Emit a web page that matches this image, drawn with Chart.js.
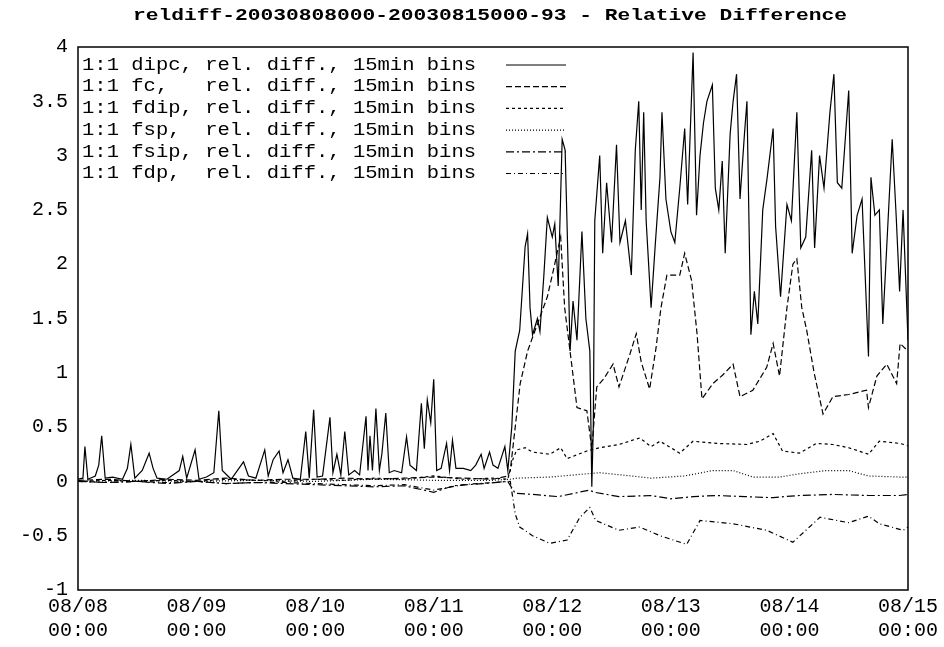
<!DOCTYPE html>
<html lang="en">
<head>
<meta charset="UTF-8">
<title>Relative Difference</title>
<script src="https://cdn.jsdelivr.net/npm/chart.js"></script>
<style>
  body { margin: 0; background: #fff; }
  #wrap { width: 944px; height: 647px; }
</style>
</head>
<body>
<div id="wrap"><canvas id="chart"></canvas></div>
<script>
// x values are hours since 08/08 00:00
const dayTicks = [0, 24, 48, 72, 96, 120, 144, 168];
const dayLabels = ['08/08', '08/09', '08/10', '08/11', '08/12', '08/13', '08/14', '08/15'];
const seriesNames = [
  '1:1 dipc, rel. diff., 15min bins',
  '1:1 fc,   rel. diff., 15min bins',
  '1:1 fdip, rel. diff., 15min bins',
  '1:1 fsp,  rel. diff., 15min bins',
  '1:1 fsip, rel. diff., 15min bins',
  '1:1 fdp,  rel. diff., 15min bins'
];

const dipc = [[0,0.02],[1,0.03],[1.4,0.32],[2,0.02],[3.5,0.05],[4.2,0.15],[4.8,0.42],[5.5,0.03],[7,0.04],[9,0.02],[10,0.12],[10.7,0.34],[11.5,0.03],[13,0.1],[14.4,0.26],[15.2,0.12],[16,0.03],[18,0.02],[20.5,0.1],[21.2,0.23],[22,0.03],[23.7,0.29],[24.5,0.02],[26,0.04],[27.5,0.08],[28.5,0.65],[29.2,0.1],[31,0.02],[33.5,0.18],[34.5,0.05],[36,0.03],[37.8,0.29],[38.5,0.05],[39.5,0.2],[40.7,0.28],[41.5,0.08],[42.5,0.2],[43.5,0.03],[45,0.02],[46.1,0.46],[46.8,0.03],[47.7,0.66],[48.4,0.04],[49.5,0.05],[51,0.59],[51.6,0.08],[52.4,0.25],[53.2,0.06],[54,0.46],[54.8,0.06],[56,0.1],[57,0.06],[58.3,0.6],[58.7,0.1],[59.1,0.42],[59.6,0.1],[60.3,0.67],[61,0.1],[61.5,0.25],[62.3,0.63],[63,0.08],[64,0.1],[65.5,0.08],[66.5,0.41],[67.2,0.15],[68.5,0.1],[69.5,0.72],[70.1,0.3],[70.7,0.75],[71.4,0.54],[72,0.94],[72.6,0.1],[73.5,0.12],[74.6,0.35],[75.2,0.1],[75.8,0.38],[76.5,0.12],[78,0.12],[79.5,0.1],[80.5,0.15],[81.6,0.25],[82.2,0.12],[83.3,0.27],[84,0.15],[85,0.12],[86.4,0.32],[87,0.1],[87.8,0.5],[88.5,1.2],[89.4,1.39],[90.5,2.16],[91,2.28],[91.5,1.6],[92,1.35],[93,1.5],[93.5,1.38],[94.3,1.9],[95,2.43],[96,2.25],[96.5,2.37],[97.2,1.8],[98,3.15],[98.6,3.05],[99.2,2.0],[99.6,1.2],[100.2,1.66],[101,1.3],[102,2.3],[102.8,1.5],[103.6,1.2],[104,-0.05],[104.3,0.5],[104.6,2.4],[105.6,3.0],[106.2,2.1],[107,2.75],[108,2.2],[109,3.1],[109.7,2.2],[110.8,2.4],[112,1.9],[112.8,3.05],[113.5,3.5],[114,2.5],[114.5,3.4],[115,2.4],[116,1.6],[116.8,2.15],[117.8,2.8],[118.2,3.4],[119,2.6],[120,2.3],[120.8,2.2],[121.8,2.7],[122.8,3.25],[123.4,2.55],[124.5,3.95],[125.2,2.45],[125.9,3.0],[126.6,3.3],[127.3,3.5],[128.4,3.65],[129,2.7],[129.7,2.5],[130.4,2.95],[131,2.1],[132,3.2],[132.6,3.5],[133.3,3.75],[134,2.6],[134.9,3.2],[135.4,3.5],[136.2,1.35],[136.9,1.75],[137.6,1.45],[138.6,2.5],[139.5,2.8],[140.7,3.25],[141.2,2.35],[142.2,1.7],[143.5,2.55],[144.4,2.4],[145.5,3.4],[146.3,2.15],[147.3,2.25],[148.5,3.05],[149.1,2.15],[150.1,3.0],[151,2.7],[152.2,3.4],[153,3.75],[153.7,2.75],[154.6,2.7],[156,3.6],[156.7,2.1],[157.7,2.45],[158.7,2.6],[160,1.15],[160.5,2.8],[161.3,2.45],[162.2,2.5],[162.9,1.45],[164.8,3.15],[165.6,2.45],[166.3,1.75],[167,2.5],[168,1.3]];

const fc = [[0,0.01],[6,0.02],[12,0.0],[18,0.02],[24,0.01],[30,0.03],[36,0.01],[42,0.02],[48,0.02],[54,0.03],[60,0.02],[66,0.03],[72,0.04],[78,0.03],[84,0.02],[87,0.05],[87.5,0.1],[88.5,0.5],[89.5,0.9],[90.5,1.1],[91,1.2],[93,1.45],[95,1.7],[96,1.9],[97.7,2.25],[98.5,1.6],[100,1.05],[101,0.68],[103,0.65],[104,0.3],[105,0.87],[106.5,0.95],[108.3,1.08],[109.5,0.87],[111.7,1.17],[113,1.36],[114,1.1],[115.7,0.85],[117,1.23],[118,1.6],[119.2,1.9],[121.8,1.9],[122.8,2.1],[124.2,1.85],[125.3,1.36],[126.3,0.76],[128.5,0.9],[130.5,0.98],[132.6,1.08],[134,0.78],[136.6,0.84],[139.4,1.05],[140.7,1.27],[142,0.97],[143.5,1.6],[144.7,2.0],[145.5,2.05],[146.5,1.6],[147.5,1.39],[149,1.0],[150.8,0.62],[152.8,0.78],[156,0.8],[159.6,0.84],[160,0.68],[161.7,0.97],[163.7,1.08],[165.7,0.9],[166.4,1.27],[168,1.2]];

const fdip = [[0,0.0],[6,0.01],[12,0.0],[18,0.01],[24,0.0],[30,0.02],[36,0.01],[42,0.0],[48,0.02],[54,0.01],[60,0.03],[66,0.02],[72,0.05],[78,0.02],[84,0.03],[87,0.02],[88,0.2],[88.8,0.29],[90.5,0.31],[92,0.27],[95.5,0.25],[97.7,0.31],[99,0.21],[103,0.28],[105.6,0.31],[109.5,0.34],[113.7,0.4],[116,0.32],[117.8,0.37],[121.8,0.26],[124.5,0.37],[129.2,0.35],[135.4,0.34],[138,0.37],[140.7,0.44],[142.6,0.28],[146,0.26],[149.5,0.35],[152.8,0.34],[156,0.31],[160,0.25],[162.2,0.37],[166.3,0.35],[168,0.33]];

const fsp = [[0,0.0],[12,0.01],[24,0.0],[36,0.01],[48,0.0],[60,0.02],[72,0.01],[84,0.01],[87.5,0.02],[88.8,0.03],[95.5,0.04],[103,0.07],[105.6,0.08],[112,0.05],[116,0.03],[122.8,0.05],[128.5,0.1],[132.6,0.1],[136.6,0.04],[142,0.04],[146,0.07],[151.5,0.1],[156,0.1],[160,0.05],[166.3,0.04],[168,0.04]];

const fsip = [[0,0.0],[6,-0.01],[12,0.0],[18,-0.02],[24,0.0],[30,-0.02],[36,-0.01],[42,-0.02],[48,-0.03],[54,-0.04],[60,-0.05],[66,-0.04],[72,-0.1],[76,-0.04],[82,-0.02],[87,0.0],[88.5,-0.11],[92,-0.12],[97.2,-0.14],[103.5,-0.08],[104.5,-0.1],[109.5,-0.14],[116,-0.13],[120,-0.16],[124.5,-0.14],[129.2,-0.13],[135,-0.14],[140.7,-0.15],[143,-0.14],[146,-0.13],[152.8,-0.12],[160,-0.13],[166.3,-0.13],[168,-0.12]];

const fdp = [[0,0.0],[6,-0.01],[12,0.0],[18,-0.01],[24,0.0],[30,-0.02],[36,-0.01],[42,-0.01],[48,-0.02],[54,-0.03],[60,-0.04],[66,-0.03],[72,-0.08],[78,-0.03],[84,-0.01],[87.5,0.0],[88.5,-0.3],[89.4,-0.42],[92,-0.5],[95.5,-0.57],[99,-0.54],[101.6,-0.33],[103.6,-0.24],[104.8,-0.36],[109.5,-0.45],[113.7,-0.42],[117.8,-0.5],[123.2,-0.58],[125.9,-0.36],[132.6,-0.39],[139.4,-0.45],[144.7,-0.56],[150.2,-0.33],[156,-0.38],[160,-0.32],[162.2,-0.39],[167,-0.45],[168,-0.42]];

const allSeries = [dipc, fc, fdip, fsp, fsip, fdp];
const dashes = [[], [6, 3], [3, 3], [1, 2], [8, 3, 2, 3], [5, 3, 1, 3]];

const monoFont = '"Liberation Mono", "DejaVu Sans Mono", monospace';

// the reference font is wider than Liberation Mono, so stretch text sideways
function wideText(ctx, text, x, y, stretch) {
  ctx.save();
  ctx.translate(x, y);
  ctx.scale(stretch, 1);
  ctx.fillText(text, 0, 0);
  ctx.restore();
}

// draws the frame, the title and the gnuplot style legend
const decorations = {
  id: 'decorations',
  afterDraw(chart) {
    const { ctx, chartArea: a } = chart;
    ctx.save();
    ctx.strokeStyle = '#000';
    ctx.lineWidth = 1.5;
    ctx.setLineDash([]);
    ctx.strokeRect(a.left, a.top, a.right - a.left, a.bottom - a.top);

    ctx.fillStyle = '#000';
    ctx.font = 'bold 17px ' + monoFont;
    ctx.textAlign = 'center';
    ctx.textBaseline = 'middle';
    wideText(ctx, 'reldiff-20030808000-20030815000-93 - Relative Difference', 490, 16, 1.25);

    ctx.font = '18px ' + monoFont;
    ctx.textAlign = 'left';
    seriesNames.forEach((name, i) => {
      const y = 65 + i * 21.7;
      wideText(ctx, name, 82, y, 1.14);
      ctx.lineWidth = 1.2;
      ctx.setLineDash(dashes[i]);
      ctx.beginPath();
      ctx.moveTo(506, y);
      ctx.lineTo(566, y);
      ctx.stroke();
    });
    ctx.restore();
  }
};

new Chart(document.getElementById('chart'), {
  type: 'line',
  data: {
    datasets: allSeries.map((s, i) => ({
      label: seriesNames[i],
      data: s.map(p => ({ x: p[0], y: p[1] })),
      borderColor: '#000',
      borderWidth: 1.2,
      borderDash: dashes[i],
      pointRadius: 0,
      tension: 0,
      fill: false
    }))
  },
  options: {
    responsive: true,
    maintainAspectRatio: false,
    animation: false,
    layout: { padding: { top: 47, right: 36, left: 0, bottom: 0 } },
    plugins: { legend: { display: false }, tooltip: { enabled: false } },
    scales: {
      x: {
        type: 'linear',
        min: 0,
        max: 168,
        afterBuildTicks: scale => { scale.ticks = dayTicks.map(v => ({ value: v })); },
        afterFit: scale => { scale.height = 57; },
        grid: { display: false, drawTicks: false },
        border: { display: false },
        ticks: {
          color: '#000',
          font: { family: monoFont, size: 20 },
          padding: 5,
          maxRotation: 0,
          callback: v => [dayLabels[dayTicks.indexOf(v)], '00:00']
        }
      },
      y: {
        min: -1,
        max: 4,
        afterFit: scale => { scale.width = 78; },
        grid: { display: false, drawTicks: false },
        border: { display: false },
        ticks: {
          stepSize: 0.5,
          color: '#000',
          font: { family: monoFont, size: 20 },
          padding: 10,
          callback: v => String(v)
        }
      }
    }
  },
  plugins: [decorations]
});
</script>
</body>
</html>
